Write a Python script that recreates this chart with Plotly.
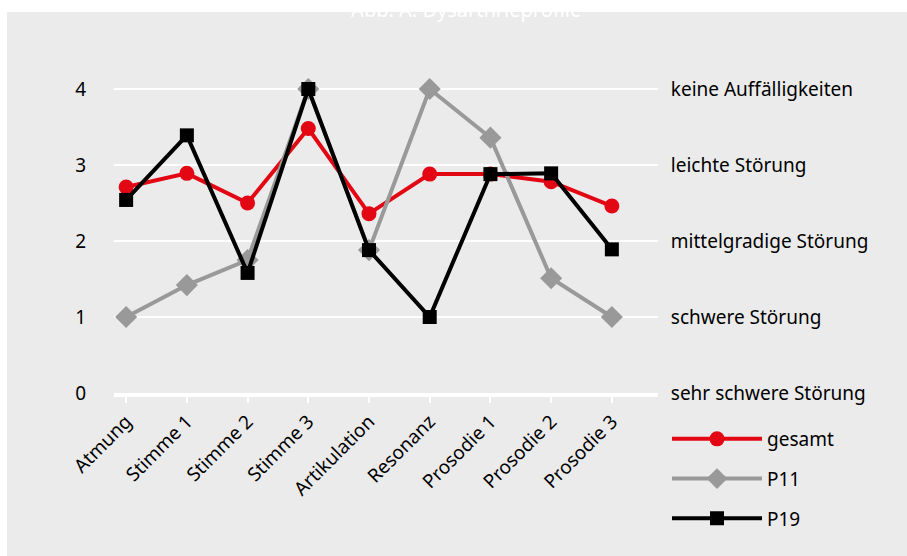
import plotly.graph_objects as go

categories = ["Atmung", "Stimme 1", "Stimme 2", "Stimme 3", "Artikulation",
              "Resonanz", "Prosodie 1", "Prosodie 2", "Prosodie 3"]
gesamt = [2.71, 2.89, 2.50, 3.48, 2.36, 2.88, 2.88, 2.78, 2.46]
p11 = [1.0, 1.42, 1.75, 4.0, 1.88, 4.0, 3.36, 1.51, 1.0]
p19 = [2.54, 3.39, 1.58, 4.0, 1.88, 1.0, 2.88, 2.89, 1.89]
y_ticks = [0, 1, 2, 3, 4]
severity_labels = ["sehr schwere Störung", "schwere Störung", "mittelgradige Störung",
                   "leichte Störung", "keine Auffälligkeiten"]
title_text = "Abb. A: Dysarthrieprofile"

FONT = "Noto Sans"
BG = "#ebebeb"
x_idx = list(range(len(categories)))

fig = go.Figure()
fig.add_trace(go.Scatter(x=x_idx, y=gesamt, name="gesamt", mode="lines+markers",
                         line=dict(color="#e30613", width=4),
                         marker=dict(symbol="circle", size=15, color="#e30613"),
                         legendgroup="a"))
fig.add_trace(go.Scatter(x=x_idx, y=p11, name="P11", mode="lines+markers",
                         line=dict(color="#999999", width=4),
                         marker=dict(symbol="diamond", size=17, color="#999999"),
                         legendgroup="b"))
fig.add_trace(go.Scatter(x=x_idx, y=p19, name="P19", mode="lines+markers",
                         line=dict(color="#000000", width=4),
                         marker=dict(symbol="square", size=14, color="#000000"),
                         legendgroup="c"))
# invisible trace to activate right axis
fig.add_trace(go.Scatter(x=[x_idx[0]], y=[y_ticks[0]], yaxis="y2", mode="markers",
                         marker=dict(opacity=0), showlegend=False, hoverinfo="skip"))

L, R, T, B = 114, 249, 60, 163
W, H = 907, 556
ph = H - T - B
yr = [0, (393 - T) / 76.0]

fig.update_layout(
    width=W, height=H,
    margin=dict(l=L, r=R, t=T, b=B, pad=0),
    paper_bgcolor=BG, plot_bgcolor=BG,
    font=dict(family=FONT, color="#000000", size=18),
    title=dict(text=title_text, x=0.514, xanchor="center", y=1 - 17 / H, yanchor="bottom",
               font=dict(family=FONT, color="#ffffff", size=20)),
    xaxis=dict(tickmode="array", tickvals=x_idx, ticktext=categories, tickangle=-45,
               range=[-0.2, 8.76], showgrid=False, zeroline=False,
               showline=True, linecolor="#ffffff", linewidth=4,
               ticks="outside", ticklen=6, tickwidth=2, tickcolor="#ffffff",
               tickfont=dict(size=19, family=FONT)),
    yaxis=dict(range=yr, tickvals=y_ticks, ticktext=[str(v) for v in y_ticks],
               showgrid=True, gridcolor="#ffffff", gridwidth=2, zeroline=False,
               ticks="outside", ticklen=23, tickcolor="rgba(0,0,0,0)",
               tickfont=dict(size=19, family=FONT)),
    yaxis2=dict(range=yr, overlaying="y", side="right", tickvals=y_ticks,
                ticktext=severity_labels, showgrid=False, zeroline=False,
                ticks="outside", ticklen=8, tickcolor="rgba(0,0,0,0)",
                tickfont=dict(size=19, family=FONT)),
    legend=dict(x=(667 - L) / (W - L - R), xanchor="left",
                y=(H - B - 420) / ph, yanchor="top",
                bgcolor="rgba(0,0,0,0)", font=dict(size=19, family=FONT),
                tracegroupgap=12, itemwidth=90),
    shapes=[
        dict(type="rect", xref="paper", yref="paper", layer="below",
             x0=-L / (W - L - R), x1=(W - L) / (W - L - R),
             y0=(H - B - 12) / ph, y1=(H - B) / ph,
             fillcolor="#ffffff", line=dict(width=0)),
        dict(type="rect", xref="paper", yref="paper", layer="below",
             x0=-L / (W - L - R), x1=(7 - L) / (W - L - R),
             y0=-B / ph, y1=(H - B) / ph,
             fillcolor="#ffffff", line=dict(width=0)),
    ],
)

fig.write_html("out.html")
